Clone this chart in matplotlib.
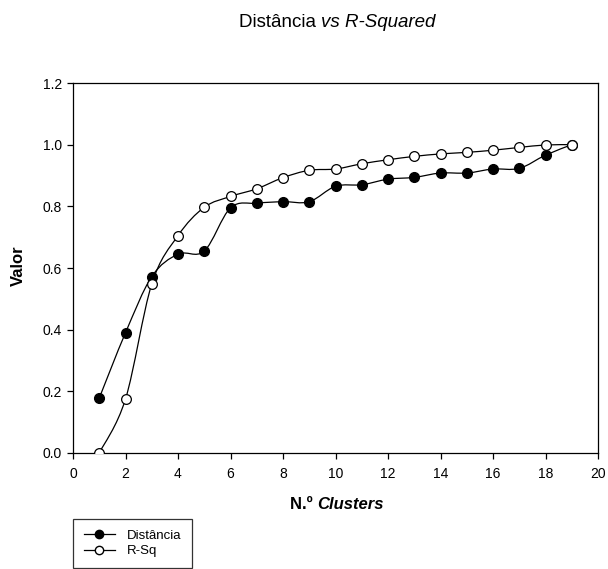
import matplotlib
matplotlib.use("Agg")
import matplotlib.pyplot as plt
from matplotlib.path import Path
from matplotlib.patches import PathPatch
from matplotlib.lines import Line2D
import numpy as np

plt.rcParams["font.family"] = ["Liberation Sans", "DejaVu Sans"]

# ---------------------------------------------------------------------------
# Data
# ---------------------------------------------------------------------------
clusters = list(range(1, 20))
distancia = [0.178, 0.390, 0.572, 0.645, 0.655, 0.795, 0.810, 0.815, 0.815,
             0.865, 0.870, 0.888, 0.894, 0.908, 0.908, 0.921, 0.923, 0.966, 1.0]
r_sq = [0.0, 0.175, 0.548, 0.705, 0.797, 0.832, 0.857, 0.893, 0.917,
        0.921, 0.938, 0.951, 0.962, 0.970, 0.975, 0.982, 0.991, 0.999, 1.0]

x_ticks = list(range(0, 21, 2))
y_ticks = [0.0, 0.2, 0.4, 0.6, 0.8, 1.0, 1.2]

W, H = 608, 569


def spline_path(x, y):
    """Catmull-Rom curve through the points, as cubic Bezier segments."""
    pts = np.column_stack([x, y]).astype(float)
    ext = np.vstack([pts[0], pts, pts[-1]])
    verts = [pts[0]]
    codes = [Path.MOVETO]
    for i in range(len(pts) - 1):
        p0, p1, p2, p3 = ext[i], ext[i + 1], ext[i + 2], ext[i + 3]
        c1 = p1 + (p2 - p0) / 6.0
        c2 = p2 - (p3 - p1) / 6.0
        verts += [c1, c2, p2]
        codes += [Path.CURVE4] * 3
    return Path(verts, codes)


def multi_style_text(fig, cx, y, parts, size):
    """Centered text made of several pieces with their own styles."""
    first = fig.text(0, y, parts[0][0], fontsize=size, ha="left",
                     va="bottom", **parts[0][1])
    texts = [first]
    prev = first
    for s, kw in parts[1:]:
        t = fig.axes[0].annotate(s, xy=(1, 0), xycoords=prev, fontsize=size,
                                 ha="left", va="bottom",
                                 annotation_clip=False, **kw)
        texts.append(t)
        prev = t
    fig.canvas.draw()
    r = fig.canvas.get_renderer()
    total = sum(t.get_window_extent(r).width for t in texts)
    first.set_x((cx - total / 2) / W)
    return texts


fig = plt.figure(figsize=(W / 100, H / 100), dpi=100)
ax = fig.add_axes([73 / W, 1 - 453 / H, 525 / W, 370 / H])

for ys in (distancia, r_sq):
    ax.add_patch(PathPatch(spline_path(clusters, ys), facecolor="none",
                           edgecolor="black", linewidth=0.9, zorder=2))

ax.plot(clusters, distancia, linestyle="none", marker="o", markersize=7,
        markerfacecolor="black", markeredgecolor="black", zorder=3)
ax.plot(clusters, r_sq, linestyle="none", marker="o", markersize=7,
        markerfacecolor="white", markeredgecolor="black",
        markeredgewidth=0.9, zorder=3)

ax.set_xlim(0, 20)
ax.set_ylim(0, 1.2)
ax.set_xticks(x_ticks)
ax.set_yticks(y_ticks)
ax.set_yticklabels([f"{v:.1f}" for v in y_ticks])
ax.tick_params(direction="out", length=4.5, width=0.9, labelsize=10,
               top=False, right=False)
ax.tick_params(axis="y", pad=3.5)
ax.tick_params(axis="x", pad=5.5)
for s in ax.spines.values():
    s.set_linewidth(0.9)

ax.set_ylabel("Valor", fontsize=12, fontweight="bold")
ax.yaxis.set_label_coords((26 - 73) / 525, (453 - 266) / 370)

# x label: "N.º " bold + "Clusters" bold italic
multi_style_text(fig, 337, 1 - 512 / H,
                 [("N.º ", {"fontweight": "bold"}),
                  ("Clusters", {"fontweight": "bold", "style": "italic"})], 12)

# title: "Distância " + italic "vs R-Squared"
multi_style_text(fig, 337, 1 - 31 / H,
                 [("Distância ", {}), ("vs R-Squared", {"style": "italic"})],
                 13.5)

# legend
handles = [
    Line2D([], [], color="black", linewidth=0.9, marker="o", markersize=6,
           markerfacecolor="black", markeredgecolor="black"),
    Line2D([], [], color="black", linewidth=0.9, marker="o", markersize=6,
           markerfacecolor="white", markeredgecolor="black"),
]
leg = fig.legend(handles, ["Distância", "R-Sq"], loc="upper left",
                 bbox_to_anchor=(73 / W, 1 - 519 / H), fontsize=9.5,
                 frameon=True, fancybox=False, handlelength=2.4,
                 borderpad=0.8, labelspacing=0.25, handletextpad=0.9,
                 borderaxespad=0)
leg.get_frame().set_edgecolor("black")
leg.get_frame().set_linewidth(0.9)

fig.savefig("out.png", dpi=100)
